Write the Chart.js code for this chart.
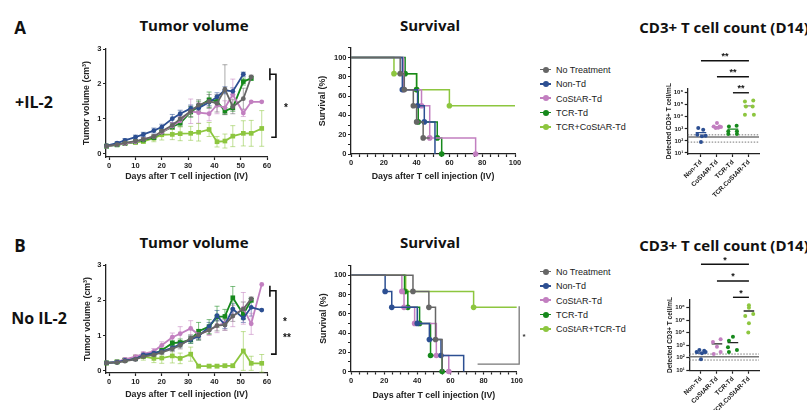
<!DOCTYPE html>
<html lang="en">
<head>
<meta charset="UTF-8">
<title>Tumor volume, survival and CD3+ T cell count</title>
<script src="https://cdn.jsdelivr.net/npm/chart.js@4/dist/chart.umd.min.js"></script>
<style>
  body { margin: 0; background: #fff; }
  #fig { position: relative; width: 807px; height: 410px; overflow: hidden; font-family: "Liberation Sans", Arial, sans-serif; color: #111; }
  #fig canvas { position: absolute; }
  .lbl { position: absolute; transform: translate(-50%, -50%); white-space: nowrap; font-family: "Open Sans", sans-serif; font-weight: bold; color: #111; }
  .head { font-size: 15px; }
  .panel { font-size: 17px; }
  .cond { font-size: 16px; }
  .legend { position: absolute; font-size: 9px; line-height: 14.3px; color: #222; }
  .legend div { white-space: nowrap; }
  .sym { display: inline-block; position: relative; width: 11px; height: 6px; margin-right: 5px; vertical-align: middle; top: -1px; }
  .sym::before { content: ''; position: absolute; left: 0; right: 0; top: 2.25px; height: 1.5px; background: currentColor; }
  .sym::after { content: ''; position: absolute; left: 2.5px; top: 0; width: 6px; height: 6px; border-radius: 50%; background: currentColor; }
</style>
</head>
<body>
<div id="fig">
  <div class="lbl panel" style="left:20px;top:27px">A</div>
  <div class="lbl cond" style="left:34px;top:102px">+IL-2</div>
  <div class="lbl panel" style="left:20px;top:245px">B</div>
  <div class="lbl cond" style="left:39px;top:318px">No IL-2</div>

  <div class="lbl head" style="left:194px;top:25px">Tumor volume</div>
  <div class="lbl head" style="left:430px;top:25px">Survival</div>
  <div class="lbl head" style="left:724px;top:27px">CD3+ T cell count (D14)</div>
  <div class="lbl head" style="left:194px;top:242px">Tumor volume</div>
  <div class="lbl head" style="left:430px;top:242px">Survival</div>
  <div class="lbl head" style="left:724px;top:245px">CD3+ T cell count (D14)</div>

  <canvas id="tumA" width="215" height="150" style="left:80px;top:40px"></canvas>
  <canvas id="survA" width="215" height="150" style="left:310px;top:40px"></canvas>
  <canvas id="cdA" width="147" height="170" style="left:660px;top:40px"></canvas>
  <canvas id="tumB" width="215" height="150" style="left:80px;top:255px"></canvas>
  <canvas id="survB" width="225" height="150" style="left:310px;top:255px"></canvas>
  <canvas id="cdB" width="147" height="160" style="left:660px;top:250px"></canvas>

  <div class="legend" id="legA" style="left:540px;top:63px"></div>
  <div class="legend" id="legB" style="left:540px;top:265px"></div>
</div>

<script>
    // groups and colours
    const groupsA = ['No Treatment', 'Non-Td', 'CoStAR-Td', 'TCR-Td', 'TCR+CoStAR-Td'];
    const groupsB = ['No Treatment', 'Non-Td', 'CoStAR-Td', 'TCR-Td', 'CoStAR+TCR-Td'];
    const colors = ['#666666', '#2c4f92', '#c27fc0', '#16891c', '#8dc63f'];

    // tumor volume (cm3), mean and SEM per measurement day
    const days = [-1, 3, 6, 10, 13, 17, 20, 24, 27, 31, 34, 38, 41, 44, 47, 51, 54, 58];
    const volA = [
        [0.23, 0.27, 0.32, 0.37, 0.42, 0.50, 0.65, 0.82, 1.00, 1.22, 1.40, 1.50, 1.45, 1.85, 1.35, 1.58, 2.20],
        [0.24, 0.31, 0.39, 0.48, 0.56, 0.67, 0.77, 1.01, 1.15, 1.30, 1.31, 1.48, 1.63, 1.82, 1.79, 2.28],
        [0.22, 0.27, 0.30, 0.35, 0.42, 0.50, 0.62, 0.80, 0.95, 1.22, 1.18, 1.15, 1.40, 1.32, 1.70, 1.17, 1.49, 1.49],
        [0.22, 0.26, 0.30, 0.35, 0.40, 0.47, 0.62, 0.78, 0.88, 1.20, 1.36, 1.55, 1.50, 1.23, 1.32, 2.07, 2.16],
        [0.23, 0.27, 0.30, 0.33, 0.36, 0.45, 0.55, 0.56, 0.58, 0.59, 0.62, 0.70, 0.35, 0.37, 0.51, 0.59, 0.59, 0.73]
    ];
    const errA = [
        [0.02, 0.03, 0.03, 0.04, 0.05, 0.05, 0.06, 0.08, 0.12, 0.15, 0.15, 0.20, 0.25, 0.70, 0.20, 0.30, 0.05],
        [0.02, 0.04, 0.05, 0.06, 0.06, 0.07, 0.08, 0.12, 0.10, 0.10, 0.12, 0.10, 0.12, 0.10, 0.10, 0.06],
        [0.02, 0.03, 0.03, 0.04, 0.05, 0.05, 0.06, 0.10, 0.12, 0.35, 0.30, 0.20, 0.25, 0.20, 0.44, 0.10, 0, 0],
        [0.02, 0.03, 0.03, 0.04, 0.04, 0.05, 0.06, 0.08, 0.10, 0.15, 0.15, 0.22, 0.15, 0.10, 0.10, 0.10, 0.05],
        [0.02, 0.03, 0.04, 0.05, 0.06, 0.10, 0.15, 0.15, 0.20, 0.20, 0.25, 0.20, 0.15, 0.20, 0.30, 0.36, 0.37, 0.51]
    ];
    const volB = [
        [0.22, 0.23, 0.27, 0.32, 0.40, 0.45, 0.52, 0.62, 0.72, 0.92, 1.02, 1.15, 1.28, 1.30, 1.55, 1.75, 2.04],
        [0.22, 0.24, 0.29, 0.33, 0.45, 0.50, 0.55, 0.65, 0.75, 0.88, 0.98, 1.25, 1.56, 1.30, 1.75, 1.49, 1.80, 1.72],
        [0.22, 0.25, 0.32, 0.40, 0.48, 0.55, 0.72, 0.95, 1.05, 1.20, 1.02, 1.15, 1.28, 1.35, 1.55, 1.77, 1.33, 2.45],
        [0.22, 0.25, 0.30, 0.35, 0.42, 0.48, 0.58, 0.78, 0.80, 0.88, 1.12, 1.25, 1.53, 1.54, 2.07, 1.60, 2.00],
        [0.22, 0.25, 0.30, 0.38, 0.40, 0.35, 0.36, 0.42, 0.35, 0.47, 0.13, 0.13, 0.13, 0.14, 0.14, 0.56, 0.21, 0.21]
    ];
    const errB = [
        [0.02, 0.02, 0.03, 0.04, 0.04, 0.05, 0.06, 0.08, 0.10, 0.10, 0.10, 0.12, 0.15, 0.15, 0.15, 0.20, 0.05],
        [0.02, 0.03, 0.03, 0.04, 0.05, 0.06, 0.06, 0.08, 0.08, 0.10, 0.10, 0.12, 0.15, 0.10, 0.15, 0.12, 0.25, 0],
        [0.02, 0.03, 0.04, 0.05, 0.06, 0.08, 0.10, 0.12, 0.20, 0.22, 0.15, 0.15, 0.20, 0.20, 0.30, 0.45, 0.30, 0],
        [0.02, 0.03, 0.03, 0.04, 0.05, 0.06, 0.06, 0.08, 0.10, 0.10, 0.25, 0.20, 0.30, 0.20, 0.32, 0.15, 0.05],
        [0.02, 0.03, 0.04, 0.06, 0.10, 0.12, 0.15, 0.20, 0.15, 0.20, 0.05, 0.05, 0.05, 0.05, 0.05, 0.55, 0.20, 0.25]
    ];
    const tumorXTicks = [0, 10, 20, 30, 40, 50, 60];
    const tumorYTicks = [0, 1, 2, 3];

    // Kaplan-Meier steps (day, % surviving)
    const survADays = [
        [0, 30, 32.5, 38, 40, 44, 48],
        [0, 31.3, 40.6, 44.7, 51.2],
        [0, 32, 43, 48, 76],
        [0, 33, 40, 41, 52.6, 55.3],
        [0, 26.2, 40, 60, 100]
    ];
    const survAPct = [
        [100, 83.3, 66.7, 50, 33.3, 16.7, 16.7],
        [100, 66.7, 50, 33.3, 0],
        [100, 66.7, 50, 16.7, 0],
        [100, 83.3, 66.7, 33.3, 16.7, 0],
        [100, 83.3, 66.7, 50, 50]
    ];
    const survBDays = [
        [0, 37.4, 47, 51, 55],
        [0, 20.6, 24.6, 40, 47.3, 54.3, 68],
        [0, 30.7, 32, 38.4, 51.5, 59],
        [0, 32.3, 34.3, 41.4, 48, 55],
        [0, 33, 74, 100]
    ];
    const survBPct = [
        [100, 83.3, 66.7, 33.3, 0],
        [100, 83.3, 66.7, 50, 33.3, 16.7, 0],
        [100, 83.3, 66.7, 50, 16.7, 0],
        [100, 83.3, 66.7, 50, 16.7, 0],
        [100, 83.3, 66.7, 66.7]
    ];
    const markZero = [false, false, true, true, true];
    const survXTicks = [0, 5, 10, 15, 20, 25, 30, 35, 40, 45, 50, 55, 60, 65, 70, 75, 80, 85, 90, 95, 100];
    const survYTicks = [0, 10, 20, 30, 40, 50, 60, 70, 80, 90, 100, 110];

    // CD3+ T cells / mL at D14
    const cdGroups = ['Non-Td', 'CoStAR-Td', 'TCR-Td', 'TCR.CoStAR-Td'];
    const cdColors = ['#2c4f92', '#c27fc0', '#16891c', '#8dc63f'];
    const cdA = [
        [1180, 850, 320, 240, 270, 80],
        [3000, 1600, 1600, 1180, 1260, 1400],
        [1600, 1800, 630, 630, 370, 370],
        [186000, 224000, 72000, 72000, 14800, 14800]
    ];
    const cdAMean = [480, 1500, 950, 80000];
    const cdAJitter = [
        [-0.17, 0.14, -0.23, 0.06, 0.29, 0],
        [0, -0.2, 0.17, -0.08, 0.08, 0.25],
        [-0.25, 0.23, -0.29, 0.25, -0.29, 0.25],
        [-0.25, 0.27, -0.19, 0.23, -0.25, 0.31]
    ];
    const cdB = [
        [400, 355, 275, 220, 275, 72],
        [1780, 2880, 740, 190, 275],
        [4700, 2200, 660, 400, 275],
        [1580000, 1000000, 310000, 214000, 55000, 10000]
    ];
    const cdBMean = [230, 1230, 1550, 537000];
    const cdBJitter = [
        [-0.1, 0.2, -0.27, 0.06, 0.29, 0],
        [-0.25, 0.23, 0, -0.2, 0.23],
        [0, -0.25, -0.31, 0.25, -0.25],
        [0, 0, 0.27, -0.23, 0, -0.04]
    ];
    const cdALod = [210, 320, 80];
    const cdBLod = [118, 190, 63];
    const cdYTicks = [10, 100, 1000, 10000, 100000, 1000000];

    Chart.defaults.font.family = '"Liberation Sans", Arial, sans-serif';
    Chart.defaults.font.weight = 'bold';
    Chart.defaults.color = '#222';
    Chart.defaults.animation = false;
    Chart.defaults.responsive = false;
    Chart.defaults.devicePixelRatio = 1;
    Chart.defaults.plugins.legend.display = false;
    Chart.defaults.plugins.tooltip.enabled = false;

    const sup = ['⁰', '¹', '²', '³', '⁴', '⁵', '⁶'];

    function axis(type, min, max, ticks, box, title, tpad, fmt, size, tsize) {
        return {
            type: type, min: min, max: max,
            afterBuildTicks: s => { s.ticks = ticks.map(v => ({value: v})); },
            afterFit: s => { if (s.isHorizontal()) s.height = box; else s.width = box; },
            grid: {drawOnChartArea: false, color: '#222', tickLength: 3, tickWidth: 1.2},
            border: {color: '#222', width: 1.3},
            ticks: {color: '#222', font: {size: size || 7.5, weight: 'bold'}, padding: 1.5, autoSkip: false,
                maxRotation: 0, callback: fmt || (v => v)},
            title: {display: !!title, text: title, color: '#222', font: {size: tsize || 8.8, weight: 'bold'},
                padding: {top: tpad, bottom: tpad}}
        };
    }

    // SEM whiskers
    const errorBars = {
        id: 'errorBars',
        beforeDatasetsDraw(chart) {
            const ctx = chart.ctx, y = chart.scales.y;
            chart.data.datasets.forEach((ds, i) => {
                const meta = chart.getDatasetMeta(i);
                ctx.save();
                ctx.strokeStyle = ds.borderColor;
                ctx.globalAlpha = 0.55;
                ctx.lineWidth = 1;
                meta.data.forEach((pt, j) => {
                    const e = ds.err[j];
                    if (!e) return;
                    const t = y.getPixelForValue(ds.data[j].y + e);
                    const b = y.getPixelForValue(ds.data[j].y - e);
                    ctx.beginPath();
                    ctx.moveTo(pt.x, t); ctx.lineTo(pt.x, b);
                    ctx.moveTo(pt.x - 2.5, t); ctx.lineTo(pt.x + 2.5, t);
                    ctx.moveTo(pt.x - 2.5, b); ctx.lineTo(pt.x + 2.5, b);
                    ctx.stroke();
                });
                ctx.restore();
            });
        }
    };

    function tumorBracket(sig) {
        return {
            id: 'tumorBracket',
            afterDraw(chart) {
                const {ctx, scales: {x, y}} = chart;
                const px = v => x.getPixelForValue(v), py = v => y.getPixelForValue(v);
                ctx.save();
                ctx.strokeStyle = '#111';
                ctx.lineWidth = 1.6;
                ctx.beginPath();
                ctx.moveTo(px(sig.capX), py(sig.capTop)); ctx.lineTo(px(sig.capX), py(sig.capBot));
                ctx.moveTo(px(sig.capX), py(sig.top)); ctx.lineTo(px(sig.x), py(sig.top));
                ctx.lineTo(px(sig.x), py(sig.bottom)); ctx.lineTo(px(sig.bottomX), py(sig.bottom));
                ctx.stroke();
                ctx.fillStyle = '#111';
                ctx.font = 'bold 10px "Liberation Sans", Arial';
                ctx.textAlign = 'center';
                ctx.textBaseline = 'middle';
                sig.stars.forEach(s => ctx.fillText(s[2], px(s[0]), py(s[1]) + 2));
                ctx.restore();
            }
        };
    }

    function tumorChart(id, vol, err, yMin, xBox, xPad, yPad, pads, sig) {
        const datasets = vol.map((v, i) => ({
            label: groupsA[i],
            data: v.map((val, j) => ({x: days[j], y: val})),
            err: err[i],
            borderColor: colors[i],
            backgroundColor: colors[i],
            borderWidth: 1.8,
            pointStyle: i > 2 ? 'rect' : 'circle',
            pointRadius: i > 2 ? 3.3 : 2.4,
            pointBorderWidth: 0,
            clip: false
        }));
        return new Chart(document.getElementById(id), {
            type: 'line',
            data: {datasets: datasets},
            options: {
                layout: {padding: pads},
                scales: {
                    x: axis('linear', -1.2, 60, tumorXTicks, xBox, 'Days after T cell injection (IV)', xPad),
                    y: axis('linear', yMin, 3, tumorYTicks, 26, 'Tumor volume (cm³)', yPad)
                }
            },
            plugins: [errorBars, tumorBracket(sig)]
        });
    }

    function survBracket(sig) {
        return {
            id: 'survBracket',
            afterDraw(chart) {
                if (!sig) return;
                const {ctx, scales: {x, y}} = chart;
                ctx.save();
                ctx.strokeStyle = '#777';
                ctx.lineWidth = 1.3;
                ctx.beginPath();
                ctx.moveTo(x.getPixelForValue(sig.x0), y.getPixelForValue(sig.y0));
                ctx.lineTo(x.getPixelForValue(sig.x1), y.getPixelForValue(sig.y0));
                ctx.lineTo(x.getPixelForValue(sig.x1), y.getPixelForValue(sig.y1));
                ctx.stroke();
                ctx.fillStyle = '#333';
                ctx.font = 'bold 8px "Liberation Sans", Arial';
                ctx.textAlign = 'center';
                ctx.textBaseline = 'middle';
                ctx.fillText('*', x.getPixelForValue(sig.sx), y.getPixelForValue(sig.sy) + 2);
                ctx.restore();
            }
        };
    }

    function survChart(id, sDays, sPct, xBox, xPad, yPad, pads, sig) {
        const datasets = sDays.map((d, i) => ({
            data: d.map((v, j) => ({x: v, y: sPct[i][j]})),
            stepped: 'before',
            borderColor: colors[i],
            backgroundColor: colors[i],
            borderWidth: 1.5,
            pointBorderWidth: 0,
            clip: false,
            pointRadius: c => {
                const data = c.dataset.data, j = c.dataIndex;
                if (j === 0 || data[j].y === data[j - 1].y) return 0;
                if (data[j].y === 0 && !markZero[i]) return 0;
                return 2.8;
            }
        }));
        return new Chart(document.getElementById(id), {
            type: 'line',
            data: {datasets: datasets},
            options: {
                layout: {padding: pads},
                scales: {
                    x: axis('linear', 0, 100, survXTicks, xBox, 'Days after T cell injection (IV)', xPad,
                        v => (v % 20 === 0 ? v : '')),
                    y: axis('linear', 0, 110, survYTicks, 41, 'Survival (%)', yPad,
                        v => (v % 20 === 0 && v <= 100 ? v : ''))
                }
            },
            plugins: [survBracket(sig)]
        });
    }

    function cdLayers(lod, sig) {
        return {
            id: 'cdLayers',
            beforeDatasetsDraw(chart) {
                const {ctx, chartArea: a, scales: {y}} = chart;
                ctx.save();
                ctx.strokeStyle = '#777';
                lod.forEach((v, k) => {
                    const py = y.getPixelForValue(v);
                    ctx.lineWidth = k === 0 ? 1.5 : 1;
                    ctx.setLineDash(k === 0 ? [] : [1.5, 1.5]);
                    ctx.beginPath();
                    ctx.moveTo(a.left, py); ctx.lineTo(a.right, py);
                    ctx.stroke();
                });
                ctx.restore();
            },
            afterDraw(chart) {
                const {ctx, scales: {x, y}} = chart;
                ctx.save();
                ctx.strokeStyle = '#111';
                ctx.fillStyle = '#111';
                ctx.lineWidth = 1.4;
                ctx.font = 'bold 9px "Liberation Sans", Arial';
                ctx.textAlign = 'center';
                sig.forEach(b => {
                    const py = y.getPixelForValue(Math.pow(10, b.exp));
                    const x0 = x.getPixelForValue(b.from), x1 = x.getPixelForValue(b.to);
                    ctx.beginPath();
                    ctx.moveTo(x0, py); ctx.lineTo(x1, py);
                    ctx.stroke();
                    ctx.fillText(b.text, (x0 + x1) / 2, py - 1.5);
                });
                ctx.restore();
            }
        };
    }

    function cdChart(id, vals, jit, means, meanCols, lod, yMin, yMax, xMin, xBox, yBox, yPad, pads, sig) {
        const datasets = [];
        vals.forEach((v, i) => {
            datasets.push({
                data: v.map((val, j) => ({x: i + jit[i][j], y: val})),
                backgroundColor: cdColors[i], borderColor: cdColors[i],
                pointRadius: 2, pointBorderWidth: 0, clip: false
            });
            datasets.push({
                data: [{x: i - 0.33, y: means[i]}, {x: i + 0.33, y: means[i]}],
                showLine: true, borderColor: meanCols[i], borderWidth: 1.3, pointRadius: 0
            });
        });
        const xAxis = axis('linear', xMin, 3.63, [0, 1, 2, 3], xBox, '', 0, v => cdGroups[v], 6.5);
        xAxis.ticks.minRotation = 45;
        xAxis.ticks.maxRotation = 45;
        return new Chart(document.getElementById(id), {
            type: 'scatter',
            data: {datasets: datasets},
            options: {
                layout: {padding: pads},
                scales: {
                    x: xAxis,
                    y: axis('logarithmic', yMin, yMax, cdYTicks, yBox, 'Detected CD3+ T cell/mL', yPad,
                        v => '10' + sup[Math.round(Math.log10(v))], 6, 6.5)
                }
            },
            plugins: [cdLayers(lod, sig)]
        });
    }

    tumorChart('tumA', volA, errA, -0.086, 33, 7.7, 1.7, {top: 9, right: 28, left: 0, bottom: 0},
        {capX: 61.1, x: 63.4, capTop: 2.45, capBot: 2.11, top: 2.28, bottom: 0.48, bottomX: 61.6,
            stars: [[67.2, 1.35, '*']]});
    tumorChart('tumB', volB, errB, -0.065, 32, 5.4, 2.0, {top: 10, right: 28, left: 0, bottom: 0},
        {capX: 61.1, x: 63.4, capTop: 2.41, capBot: 2.10, top: 2.27, bottom: 0.47, bottomX: 61.5,
            stars: [[66.8, 1.44, '*'], [67.6, 0.97, '**']]});

    survChart('survA', survADays, survAPct, 36, 8.0, 7.4, {top: 7.9, right: 10, left: 0, bottom: 0}, null);
    survChart('survB', survBDays, survBPct, 33.5, 4.0, 8.0, {top: 10.7, right: 18.3, left: 0, bottom: 0},
        {x0: 76.4, x1: 101.5, y0: 7.6, y1: 67.9, sx: 104.4, sy: 37.9});

    cdChart('cdA', cdA, cdAJitter, cdAMean, ['#2c4f92', '#c27fc0', '#16891c', '#888888'], cdALod,
        Math.pow(10, 0.917), Math.pow(10, 6.36), -0.83, 56, 27.7, 5.8, {top: 48.3, right: 48, left: 0, bottom: 0},
        [{from: 0, to: 3, exp: 8.64, text: '**'}, {from: 1, to: 3, exp: 7.32, text: '**'},
            {from: 2, to: 3, exp: 5.99, text: '**'}]);
    cdChart('cdB', cdB, cdBJitter, cdBMean, ['#2c4f92', '#222222', '#222222', '#222222'], cdBLod,
        Math.pow(10, 0.944), Math.pow(10, 6.67), -0.73, 39.3, 29.3, 6.8, {top: 49.3, right: 48, left: 0, bottom: 0},
        [{from: 0, to: 3, exp: 9.48, text: '*'}, {from: 1, to: 3, exp: 8.14, text: '*'},
            {from: 2, to: 3, exp: 6.83, text: '*'}]);

    // legends
    function fillLegend(id, names) {
        const el = document.getElementById(id);
        names.forEach((n, i) => {
            const row = document.createElement('div');
            row.innerHTML = '<span class="sym" style="color:' + colors[i] + '"></span>' + n;
            el.appendChild(row);
        });
    }
    fillLegend('legA', groupsA);
    fillLegend('legB', groupsB);
</script>
</body>
</html>
